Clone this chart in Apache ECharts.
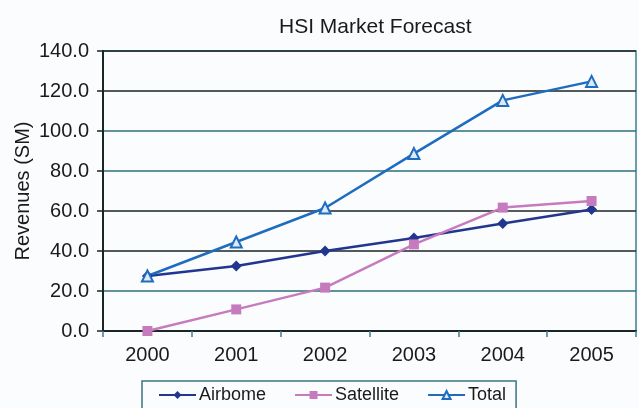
<!DOCTYPE html>
<html>
<head>
<meta charset="utf-8">
<script src="https://cdn.jsdelivr.net/npm/echarts@6/dist/echarts.min.js"></script>
<style>
html,body{margin:0;padding:0;background:#fbfcfd;}
#c{width:639px;height:408px;}
</style>
</head>
<body>
<div id="c"></div>
<script>
var categories = ['2000','2001','2002','2003','2004','2005'];
var airborne = [27.5, 32.5, 40.0, 46.5, 53.7, 60.8];
var satellite = [0.0, 10.8, 21.7, 43.3, 61.7, 65.0];
var total = [27.5, 44.5, 61.5, 88.7, 115.3, 124.8];
var seriesNames = ['Airbome', 'Satellite', 'Total'];

var FONT = 'Liberation Sans, Arial, sans-serif';
var chart = echarts.init(document.getElementById('c'));
chart.setOption({
  backgroundColor: '#fbfcfd',
  animation: false,
  title: {
    text: 'HSI Market Forecast',
    left: 274, top: 12,
    textStyle: {fontFamily: FONT, fontSize: 21, fontWeight: 'normal', color: '#1a1a1a'}
  },
  legend: {
    data: seriesNames,
    left: 142, top: 381,
    padding: [5, 10, 12, 16],
    itemGap: 28,
    itemWidth: 37, itemHeight: 10,
    borderColor: '#3b7580', borderWidth: 1.5,
    textStyle: {fontFamily: FONT, fontSize: 18, color: '#1a1a1a', padding: [0, 0, 0, -2]}
  },
  grid: {
    left: 103, right: 3, top: 51, bottom: 77,
    outerBoundsMode: 'none',
    containLabel: false,
    show: true, borderColor: '#3d7f8c', borderWidth: 1.5, backgroundColor: 'transparent'
  },
  xAxis: {
    type: 'category',
    data: categories,
    boundaryGap: true,
    axisLine: {lineStyle: {color: '#1a2526', width: 2}},
    axisTick: {show: true, length: 6, inside: false, lineStyle: {color: '#3d7f8c', width: 1.5}},
    axisLabel: {fontFamily: FONT, fontSize: 20, color: '#1a1a1a', margin: 14}
  },
  yAxis: {
    type: 'value',
    min: 0, max: 140, interval: 20,
    name: 'Revenues (SM)',
    nameLocation: 'middle',
    nameGap: 70,
    nameMoveOverlap: false,
    nameTextStyle: {fontFamily: FONT, fontSize: 20, color: '#1a1a1a'},
    axisLine: {show: true, lineStyle: {color: '#1a2526', width: 2}},
    axisTick: {show: true, length: 6, lineStyle: {color: '#1a2526', width: 1.5}},
    axisLabel: {fontFamily: FONT, fontSize: 20, color: '#1a1a1a', margin: 14,
      formatter: function (v) { return v.toFixed(1); }},
    splitLine: {show: true, lineStyle: {
      color: ['#1a2526', '#2e6e7c', '#1a2526', '#1a2526', '#2e6e7c', '#2e6e7c', '#1a2526', '#1a2526'],
      width: 1.5}}
  },
  series: [
    {
      name: seriesNames[0], type: 'line', data: airborne,
      symbol: 'diamond', symbolSize: 11,
      lineStyle: {color: '#22368f', width: 2.5},
      itemStyle: {color: '#22368f'}
    },
    {
      name: seriesNames[1], type: 'line', data: satellite,
      symbol: 'rect', symbolSize: 10,
      lineStyle: {color: '#c77bbf', width: 2.5},
      itemStyle: {color: '#c77bbf'}
    },
    {
      name: seriesNames[2], type: 'line', data: total,
      symbol: 'triangle', symbolSize: 11,
      lineStyle: {color: '#1e6cc0', width: 2.5},
      itemStyle: {color: '#dfe9f5', borderColor: '#1e6cc0', borderWidth: 2}
    }
  ]
});
</script>
</body>
</html>
